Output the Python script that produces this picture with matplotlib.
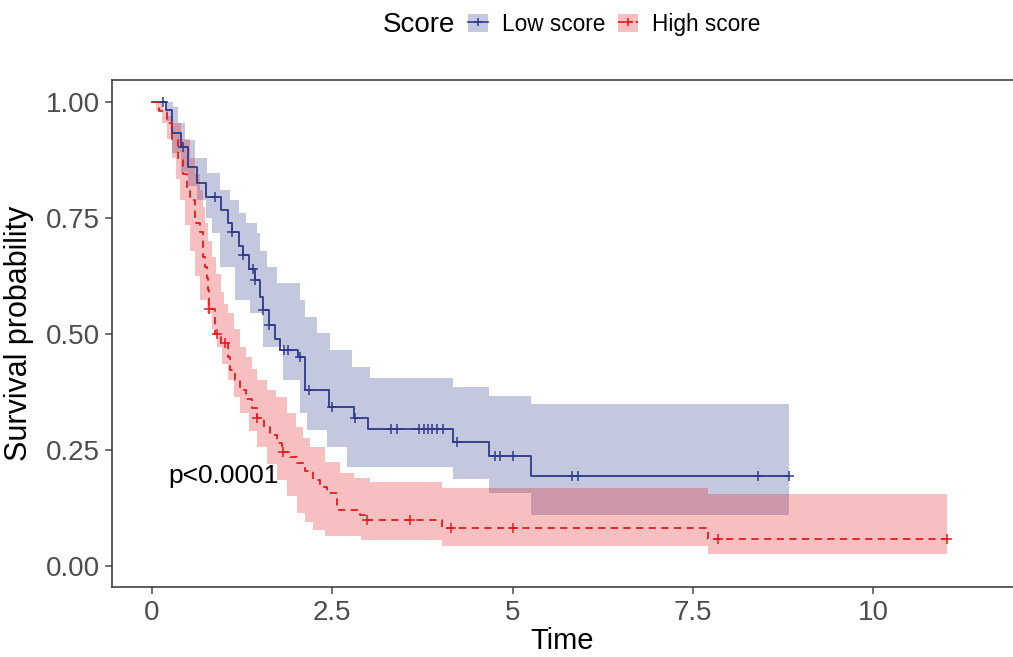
import numpy as np
import matplotlib
matplotlib.use("Agg")
import matplotlib.pyplot as plt
from matplotlib.lines import Line2D
from matplotlib.patches import Patch
from matplotlib.legend_handler import HandlerTuple

plt.rcParams['font.family'] = ['Liberation Sans', 'DejaVu Sans']

# ---------------- data ----------------
groups = ["Low score", "High score"]

# Low score: KM step curve
low_t = [0, 0.20, 0.28, 0.40, 0.50, 0.62, 0.75, 0.95, 1.05, 1.11, 1.20, 1.26, 1.35, 1.43,
         1.50, 1.54, 1.62, 1.70, 1.78, 2.02, 2.12, 2.45, 2.80, 3.00, 4.18, 4.67, 5.25]
low_s = [1.0, 0.983, 0.933, 0.903, 0.86, 0.825, 0.795, 0.767, 0.74, 0.72, 0.69, 0.67, 0.64, 0.616,
         0.58, 0.552, 0.52, 0.49, 0.465, 0.45, 0.379, 0.343, 0.319, 0.295, 0.267, 0.237, 0.194]
low_end = 8.83
low_up_t = [0, 0.29, 0.36, 0.46, 0.60, 0.76, 0.94, 1.08, 1.20, 1.30, 1.46, 1.50, 1.60, 1.73,
            2.05, 2.12, 2.29, 2.47, 2.77, 3.02, 4.18, 4.67, 5.25]
low_up = [1.0, 0.99, 0.955, 0.918, 0.88, 0.847, 0.81, 0.79, 0.76, 0.74, 0.718, 0.68, 0.644, 0.61,
          0.573, 0.537, 0.502, 0.465, 0.429, 0.405, 0.386, 0.366, 0.349]
low_lo_t = [0, 0.20, 0.28, 0.40, 0.50, 0.62, 0.75, 0.83, 0.94, 1.15, 1.36, 1.54, 1.82, 2.05,
            2.15, 2.43, 2.71, 4.18, 4.67, 5.25]
low_lo = [1.0, 0.96, 0.89, 0.85, 0.82, 0.79, 0.75, 0.718, 0.644, 0.573, 0.545, 0.472, 0.40, 0.33,
          0.293, 0.256, 0.213, 0.187, 0.157, 0.11]
low_cens = [0.15, 0.43, 0.87, 1.11, 1.26, 1.40, 1.43, 1.54, 1.62, 1.83, 1.88, 2.05, 2.17, 2.50,
            2.82, 3.32, 3.40, 3.70, 3.77, 3.83, 3.88, 3.95, 4.03, 4.23, 4.75, 4.82, 5.00,
            5.83, 5.91, 8.40, 8.83]

# High score
high_t = [0, 0.10, 0.21, 0.28, 0.36, 0.43, 0.49, 0.53, 0.60, 0.67, 0.71, 0.74, 0.76, 0.78,
          0.785, 0.87, 0.95, 1.05, 1.08, 1.15, 1.22, 1.30, 1.38, 1.46, 1.55, 1.64, 1.73, 1.80,
          1.92, 2.01, 2.12, 2.23, 2.33, 2.43, 2.57, 2.88, 2.95, 4.02, 7.71]
high_s = [1.0, 0.98, 0.955, 0.92, 0.88, 0.845, 0.81, 0.79, 0.74, 0.72, 0.666, 0.644, 0.62, 0.595,
          0.554, 0.50, 0.48, 0.45, 0.422, 0.40, 0.38, 0.36, 0.34, 0.32, 0.30, 0.282, 0.265, 0.246,
          0.235, 0.222, 0.205, 0.185, 0.17, 0.157, 0.12, 0.11, 0.099, 0.082, 0.058]
high_end = 11.03
high_up_t = [0, 0.15, 0.22, 0.29, 0.40, 0.53, 0.60, 0.67, 0.70, 0.74, 0.78, 0.83, 0.88, 0.95,
             1.00, 1.05, 1.13, 1.22, 1.30, 1.38, 1.46, 1.60, 1.72, 1.87, 2.00, 2.10, 2.19, 2.40,
             2.61, 2.80, 3.02, 4.02, 7.71]
high_up = [1.0, 0.985, 0.97, 0.955, 0.92, 0.88, 0.845, 0.81, 0.775, 0.74, 0.70, 0.666, 0.63, 0.59,
           0.565, 0.545, 0.51, 0.472, 0.45, 0.425, 0.40, 0.38, 0.364, 0.33, 0.30, 0.275, 0.256,
           0.225, 0.20, 0.19, 0.181, 0.168, 0.155]
high_lo_t = [0, 0.05, 0.14, 0.21, 0.28, 0.33, 0.39, 0.46, 0.53, 0.60, 0.67, 0.76, 0.83, 0.90,
             0.97, 1.05, 1.13, 1.22, 1.34, 1.46, 1.60, 1.73, 1.87, 2.01, 2.12, 2.23, 2.40, 2.90,
             4.02, 7.71]
high_lo = [1.0, 0.98, 0.955, 0.92, 0.88, 0.835, 0.79, 0.735, 0.68, 0.625, 0.573, 0.545, 0.51,
           0.472, 0.435, 0.40, 0.365, 0.33, 0.29, 0.256, 0.22, 0.185, 0.15, 0.114, 0.095, 0.078,
           0.065, 0.056, 0.043, 0.026]
high_cens = [0.79, 0.90, 1.01, 1.46, 1.82, 2.98, 3.58, 4.15, 5.00, 7.85, 11.03]

p_text = "p<0.0001"

x_ticks = [0, 2.5, 5, 7.5, 10]
x_ticklabels = ["0", "2.5", "5", "7.5", "10"]
y_ticks = [0, 0.25, 0.5, 0.75, 1.0]
y_ticklabels = ["0.00", "0.25", "0.50", "0.75", "1.00"]

# ---------------- styling ----------------
low_col = "#2E3A8C"
high_col = "#E41A1C"
band_alpha = 0.28


def step_eval(ts, vs, x):
    idx = np.searchsorted(np.asarray(ts), np.asarray(x), side='right') - 1
    return np.asarray(vs)[np.clip(idx, 0, len(vs) - 1)]


fig = plt.figure(figsize=(10.13, 6.57), dpi=100)
ax = fig.add_axes([0.1106, 0.1065, 0.8894, 0.7715])


def draw_group(t, s, end, up_t, up, lo_t, lo, cens, col, ls, z):
    grid = np.unique(np.concatenate([up_t, lo_t, [end]]))
    grid = grid[grid <= end]
    u = step_eval(up_t, up, grid)
    l = step_eval(lo_t, lo, grid)
    ax.fill_between(grid, l, u, step='post', color=col, alpha=band_alpha, lw=0, zorder=z)
    tt = np.concatenate([t, [end]])
    ss = np.concatenate([s, [s[-1]]])
    line, = ax.step(tt, ss, where='post', color=col, lw=1.3, zorder=z + 2)
    if ls == '--':
        line.set_dashes((4, 3))
    cy = step_eval(t, s, cens)
    ax.plot(cens, cy, ls='none', marker='+', ms=6.5, mew=1.1, color=col, zorder=z + 3)


draw_group(low_t, low_s, low_end, low_up_t, low_up, low_lo_t, low_lo, low_cens,
           low_col, '-', 2)
draw_group(high_t, high_s, high_end, high_up_t, high_up, high_lo_t, high_lo, high_cens,
           high_col, '--', 3)

ax.text(0.22, 0.194, p_text, fontsize=19, va='center', ha='left', color='black')

ax.set_xlim(-0.555, 11.94)
ax.set_ylim(-0.0453, 1.0474)
ax.set_xticks(x_ticks)
ax.set_xticklabels(x_ticklabels)
ax.set_yticks(y_ticks)
ax.set_yticklabels(y_ticklabels)
ax.tick_params(axis='both', labelsize=20, colors='#4D4D4D', length=5, width=1.1,
               labelcolor='#4D4D4D', pad=4)
for sp in ['left', 'bottom', 'top']:
    ax.spines[sp].set_color('#333333')
    ax.spines[sp].set_linewidth(1.1)
ax.spines['right'].set_visible(False)

ax.set_xlabel("Time", fontsize=21, labelpad=1)
ax.set_ylabel("Survival probability", fontsize=22, labelpad=8)

# legend on top
handles = []
for col, ls in [(low_col, '-'), (high_col, '--')]:
    patch = Patch(facecolor=col, alpha=band_alpha, edgecolor='none')
    line = Line2D([], [], color=col, lw=1.2, ls=ls, marker='+', ms=6, mew=1.1)
    handles.append((patch, line))
fig.text(0.378, 0.962, "Score", fontsize=20, va='center', ha='left')
fig.legend(handles, groups, handler_map={tuple: HandlerTuple(ndivide=1, pad=0)},
           loc='center left', bbox_to_anchor=(0.462, 0.963), ncol=2, frameon=False,
           fontsize=16.3, handlelength=0.88, handleheight=0.88, handletextpad=0.62,
           columnspacing=0.55, borderaxespad=0, borderpad=0)

fig.savefig("out.png", dpi=100)
